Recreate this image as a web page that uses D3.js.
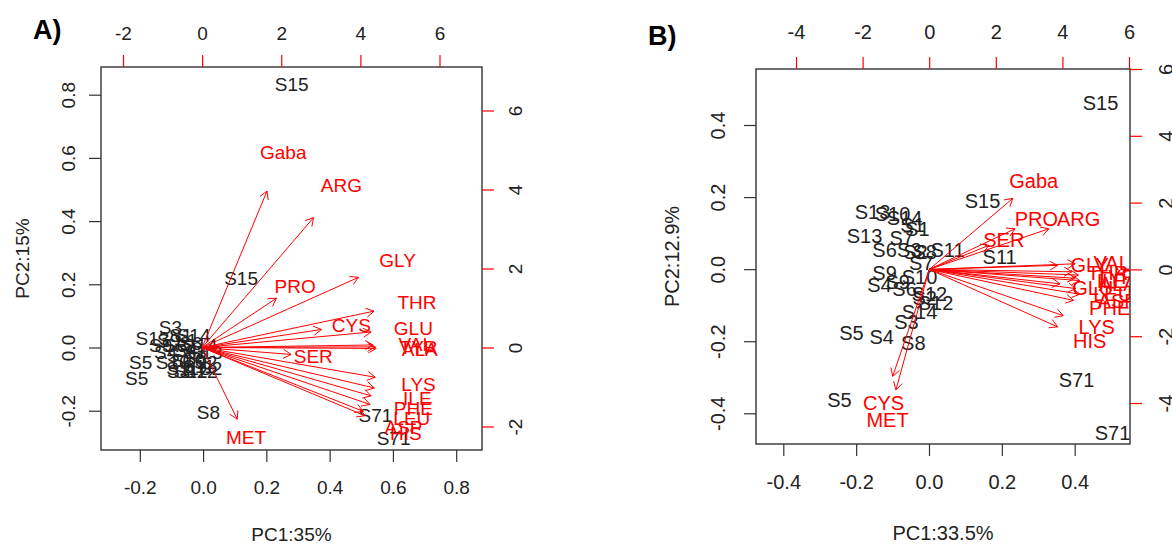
<!DOCTYPE html>
<html><head><meta charset="utf-8">
<script src="https://cdn.jsdelivr.net/npm/d3@7"></script>
<style>body{margin:0;background:#fff}svg{display:block}text{font-family:Arial,"Liberation Sans",sans-serif}</style>
</head><body>
<svg id="chart" width="1172" height="544"></svg>
<script>
// ---------- Panel A data ----------
const sampleNamesA = ["S15","S15","S8","S71","S71","S3","S13","S9","S4","S5","S5","S1","S1","S6","S6","S7","S7","S10","S10","S11","S11","S12","S12","S2","S2","S14","S14","S9","S4","S13","S8","S3"];
const samplePC1A = [0.280,0.120,0.017,0.545,0.602,-0.103,-0.160,-0.134,-0.118,-0.197,-0.210,-0.071,-0.055,-0.087,-0.039,-0.077,-0.024,-0.096,-0.046,-0.065,-0.014,-0.039,-0.008,0.008,0.024,-0.030,-0.008,-0.109,-0.055,0.008,-0.024,-0.077];
const samplePC2A = [0.834,0.220,-0.204,-0.214,-0.286,0.065,0.030,0.008,-0.014,-0.046,-0.097,0.040,0.024,0.008,0.014,-0.024,-0.014,-0.046,-0.040,-0.065,-0.059,-0.074,-0.074,-0.046,-0.065,0.040,0.008,0.024,-0.008,-0.014,-0.033,-0.074];
const varNamesA = ["Gaba","ARG","GLY","PRO","THR","CYS","GLU","VAL","TYR","ALA","SER","LYS","ILE","PHE","LEU","ASP","HIS","MET"];
const varPC1A = [2.05,3.52,4.94,2.35,5.43,3.77,5.34,5.40,5.47,5.50,2.81,5.47,5.44,5.34,5.30,5.09,5.15,1.11];
const varPC2A = [4.95,4.11,2.22,1.56,1.15,0.57,0.49,0.08,0.02,-0.03,-0.22,-0.94,-1.28,-1.53,-1.80,-2.02,-2.16,-2.27];
const bottomTicksA = [-0.2,0.0,0.2,0.4,0.6,0.8];
const leftTicksA = [-0.2,0.0,0.2,0.4,0.6,0.8];
const topTicksA = [-2,0,2,4,6];
const rightTicksA = [-2,0,2,4,6];

// ---------- Panel B data ----------
const sampleNamesB = ["S13","S10","S14","S1","S1","S13","S7","S6","S3","S2","S8","S11","S7","S9","S10","S9","S4","S6","S12","S2","S12","S14","S3","S8","S5","S4","S5","S15","S15","S11","S71","S71"];
const samplePC1B = [-0.155,-0.100,-0.067,-0.045,-0.032,-0.177,-0.075,-0.122,-0.054,-0.037,-0.012,0.051,-0.021,-0.122,-0.026,-0.086,-0.136,-0.067,0.001,-0.012,0.018,-0.026,-0.062,-0.043,-0.213,-0.130,-0.246,0.147,0.471,0.194,0.405,0.504];
const samplePC2B = [0.158,0.153,0.142,0.122,0.111,0.092,0.086,0.053,0.053,0.047,0.047,0.055,0.019,-0.011,-0.022,-0.036,-0.044,-0.055,-0.069,-0.080,-0.092,-0.119,-0.147,-0.203,-0.178,-0.189,-0.363,0.189,0.461,0.033,-0.308,-0.455];
const varNamesB = ["Gaba","PRO","ARG","SER","GLY","VAL","THR","TYR","ILE","GLU","ALA","LEU","ASP","PHE","LYS","HIS","CYS","MET"];
const varPC1B = [3.14,3.22,4.49,2.24,4.82,5.48,5.36,5.60,5.48,4.91,5.66,5.51,5.66,5.42,5.03,4.82,-1.37,-1.25];
const varPC2B = [2.66,1.52,1.52,0.90,0.15,0.21,-0.09,-0.21,-0.33,-0.54,-0.42,-0.72,-0.93,-1.16,-1.73,-2.15,-4.00,-4.51];
const bottomTicksB = [-0.4,-0.2,0.0,0.2,0.4];
const leftTicksB = [-0.4,-0.2,0.0,0.2,0.4];
const topTicksB = [-4,-2,0,2,4,6];
const rightTicksB = [-4,-2,0,2,4,6];

const svg = d3.select("#chart");
const INK = "#222";
const RED = "#ff0000";

function drawPanel(p) {
  const FS = p.fs;
  const [bx0, by0, bx1, by1] = p.box;
  const xS = d3.scaleLinear().domain(p.xSd).range(p.xSr);
  const yS = d3.scaleLinear().domain(p.ySd).range(p.ySr);
  const xV = d3.scaleLinear().domain(p.xVd).range(p.xVr);
  const yV = d3.scaleLinear().domain(p.yVd).range(p.yVr);
  const g = svg.append("g");
  const clipId = "clip" + p.id;
  svg.append("clipPath").attr("id", clipId).append("rect")
    .attr("x", bx0).attr("y", by0).attr("width", bx1 - bx0).attr("height", by1 - by0);
  const inner = g.append("g").attr("clip-path", `url(#${clipId})`);

  // sample labels
  inner.selectAll("text.smp").data(d3.range(p.sn.length)).join("text")
    .attr("class", "smp")
    .attr("x", i => xS(p.sx[i])).attr("y", i => yS(p.sy[i]))
    .attr("dy", "0.36em").attr("text-anchor", "middle")
    .attr("font-size", FS).attr("fill", INK)
    .text(i => p.sn[i]);

  // arrows (drawn to 0.8 of the loading) and labels at the loading
  const ox = xV(0), oy = yV(0);
  const ag = inner.append("g").attr("stroke", RED).attr("stroke-width", 1).attr("fill", "none");
  d3.range(p.vn.length).forEach(i => {
    const tx = xV(0.8 * p.vx[i]), ty = yV(0.8 * p.vy[i]);
    ag.append("line").attr("x1", ox).attr("y1", oy).attr("x2", tx).attr("y2", ty);
    const ang = Math.atan2(ty - oy, tx - ox);
    const L = 9, a = Math.PI / 6;
    const path = d3.path();
    path.moveTo(tx - L * Math.cos(ang - a), ty - L * Math.sin(ang - a));
    path.lineTo(tx, ty);
    path.lineTo(tx - L * Math.cos(ang + a), ty - L * Math.sin(ang + a));
    ag.append("path").attr("d", path.toString());
  });
  inner.selectAll("text.var").data(d3.range(p.vn.length)).join("text")
    .attr("class", "var")
    .attr("x", i => xV(p.vx[i])).attr("y", i => yV(p.vy[i]))
    .attr("dy", "0.36em").attr("text-anchor", "middle")
    .attr("font-size", FS).attr("fill", RED)
    .text(i => p.vn[i]);

  // box
  g.append("rect").attr("x", bx0).attr("y", by0).attr("width", bx1 - bx0).attr("height", by1 - by0)
    .attr("fill", "none").attr("stroke", "#333").attr("stroke-width", 1.4);

  const styleAxis = (sel, col) => {
    sel.select(".domain").remove();
    sel.selectAll(".tick line").attr("stroke", col).attr("stroke-width", 1.2);
    sel.selectAll(".tick text").attr("fill", INK).attr("font-size", FS)
      .attr("font-family", "Arial, 'Liberation Sans', sans-serif");
  };
  const fmt1 = d => d.toFixed(1);
  const fmt0 = d => String(d);

  // bottom
  const gb = g.append("g").attr("transform", `translate(0,${by1})`)
    .call(d3.axisBottom(xS).tickValues(p.bt).tickFormat(fmt1).tickSize(12));
  styleAxis(gb, "#333");
  gb.selectAll(".tick text").attr("y", p.off.b).attr("dy", "0.35em");
  // left
  const gl = g.append("g").attr("transform", `translate(${bx0},0)`)
    .call(d3.axisLeft(yS).tickValues(p.lt).tickFormat(fmt1).tickSize(12));
  styleAxis(gl, "#333");
  gl.selectAll(".tick text").attr("x", 0).attr("y", 0).attr("dy", "0.35em")
    .attr("text-anchor", "middle").attr("transform", `translate(${-p.off.l},0) rotate(-90)`);
  // top
  const gt = g.append("g").attr("transform", `translate(0,${by0})`)
    .call(d3.axisTop(xV).tickValues(p.tt).tickFormat(fmt0).tickSize(12));
  styleAxis(gt, RED);
  gt.selectAll(".tick text").attr("y", -p.off.t).attr("dy", "0.35em");
  // right
  const gr = g.append("g").attr("transform", `translate(${bx1},0)`)
    .call(d3.axisRight(yV).tickValues(p.rt).tickFormat(fmt0).tickSize(12));
  styleAxis(gr, RED);
  gr.selectAll(".tick text").attr("x", 0).attr("y", 0).attr("dy", "0.35em")
    .attr("text-anchor", "middle").attr("transform", `translate(${p.off.r},0) rotate(-90)`);

  // titles
  g.append("text").attr("x", (bx0 + bx1) / 2).attr("y", p.xt[1]).attr("dy", "0.35em")
    .attr("text-anchor", "middle").attr("font-size", FS).attr("fill", INK).text(p.xTitle);
  g.append("text").attr("transform", `translate(${p.yt[0]},${(by0 + by1) / 2}) rotate(-90)`)
    .attr("dy", "0.35em").attr("text-anchor", "middle").attr("font-size", FS).attr("fill", INK).text(p.yTitle);
  g.append("text").attr("x", p.letter[0]).attr("y", p.letter[1]).attr("font-size", 27)
    .attr("font-weight", "bold").attr("fill", "#000").text(p.letterText);
}

drawPanel({
  id: "A", fs: 19, box: [101, 67, 482, 450],
  xSd: [-0.2, 0.8], xSr: [139.8, 456.2], ySd: [-0.2, 0.8], ySr: [410.7, 94.7],
  xVd: [-2, 6], xVr: [123, 439.5], yVd: [-2, 6], yVr: [426.5, 110.5],
  sn: sampleNamesA, sx: samplePC1A, sy: samplePC2A,
  vn: varNamesA, vx: varPC1A, vy: varPC2A,
  bt: bottomTicksA, lt: leftTicksA, tt: topTicksA, rt: rightTicksA,
  off: { b: 37, l: 33, t: 34, r: 33 },
  xTitle: "PC1:35%", yTitle: "PC2:15%", xt: [0, 534], yt: [22, 0],
  letter: [33, 39], letterText: "A)"
});
drawPanel({
  id: "B", fs: 20, box: [756, 69, 1130, 444],
  xSd: [-0.4, 0.4], xSr: [783.3, 1074.7], ySd: [-0.4, 0.4], ySr: [413.3, 125],
  xVd: [-4, 6], xVr: [796, 1129], yVd: [-4, 6], yVr: [403, 69],
  sn: sampleNamesB, sx: samplePC1B, sy: samplePC2B,
  vn: varNamesB, vx: varPC1B, vy: varPC2B,
  bt: bottomTicksB, lt: leftTicksB, tt: topTicksB, rt: rightTicksB,
  off: { b: 38, l: 38, t: 37, r: 36 },
  xTitle: "PC1:33.5%", yTitle: "PC2:12.9%", xt: [0, 533], yt: [672, 0],
  letter: [648, 45], letterText: "B)"
});
</script>
</body></html>
